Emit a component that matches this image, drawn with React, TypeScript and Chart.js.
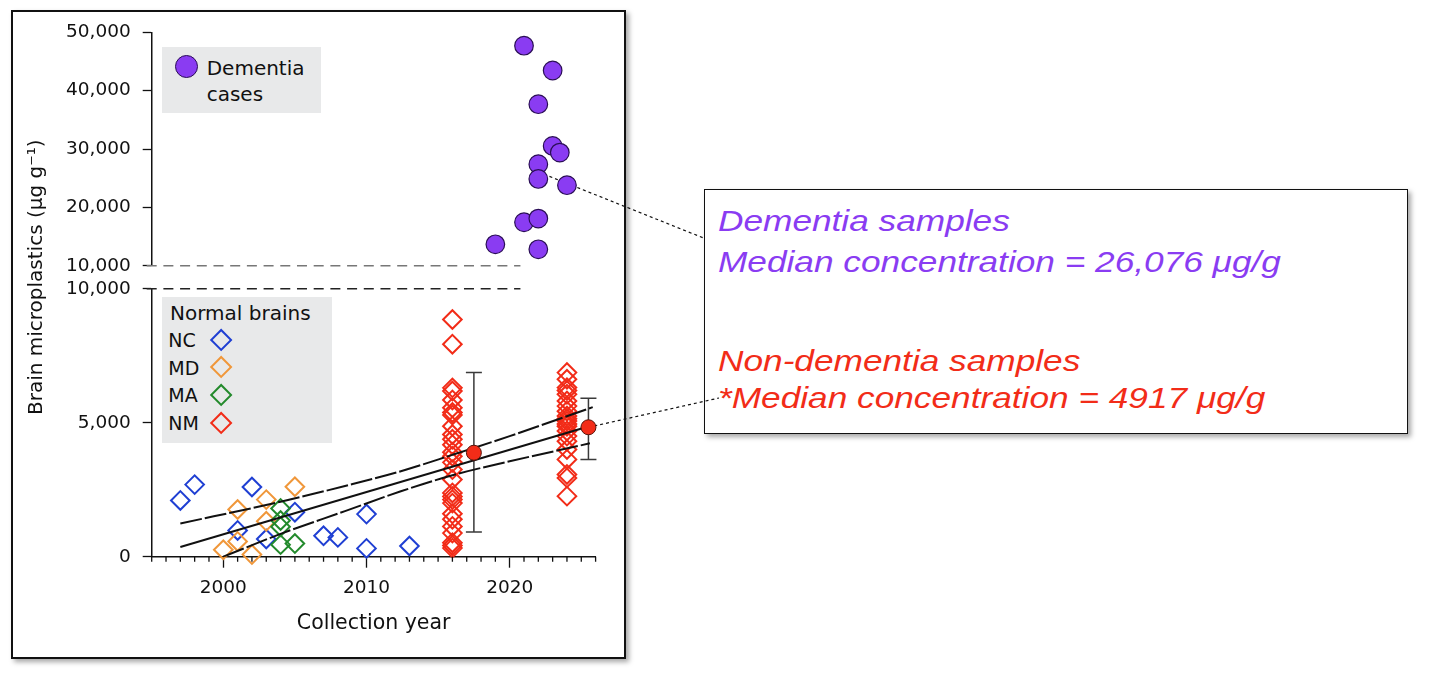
import React, { useEffect, useRef } from 'react';
import { Chart, registerables } from 'chart.js';

Chart.register(...registerables);

const FONT = '"DejaVu Sans", "Noto Sans", sans-serif';
const NOTE_FONT = '"Liberation Sans", Arial, sans-serif';

// Dementia cases (upper panel)
const dementiaYears = [2021, 2023, 2022, 2023, 2023.5, 2022, 2022, 2024, 2021, 2022, 2019, 2022];
const dementiaValues = [47700, 43450, 37680, 30520, 29380, 27400, 24870, 23800, 17450, 18070, 13670, 12810];
const dementiaMedianYear = 2022;
const dementiaMedian = 26076;

// Normal brains (lower panel)
const ncYears = [1997, 1998, 2001, 2002, 2003, 2005, 2007, 2008, 2010, 2010, 2013];
const ncValues = [2100, 2690, 980, 2600, 660, 1660, 780, 720, 1590, 310, 400];
const mdYears = [2000, 2001, 2001, 2002, 2003, 2003, 2005];
const mdValues = [260, 1760, 570, 80, 2130, 1320, 2610];
const maYears = [2004, 2004, 2004, 2004, 2005];
const maValues = [1800, 1350, 1120, 450, 490];
const nmYearA = 2016;
const nmValuesA = [8850, 7930, 6300, 6180, 5850, 5560, 5380, 5290, 4870, 4560, 4380, 4180, 3900, 3750, 3520, 3250, 2880, 2380, 2250, 2130, 2000, 1600, 1400, 1130, 880, 520, 420, 320];
const nmYearB = 2024;
const nmValuesB = [6870, 6620, 6310, 6200, 6060, 5810, 5620, 5430, 5250, 5150, 5060, 4950, 4870, 4690, 4500, 4310, 4000, 3630, 3070, 2940, 2260];

// NM summaries (median with range)
const summaryYears = [2017.5, 2025.5];
const summaryMedians = [3880, 4830];
const summaryLow = [920, 3630];
const summaryHigh = [6870, 5910];

// regression fit and its confidence band
const fitYears = [1997, 2025.5];
const fitValues = [363, 4860];
const upperYears = [1997, 2004, 2008.5, 2012.4, 2016, 2020, 2025.8];
const upperValues = [1240, 2050, 2640, 3190, 3800, 4500, 5580];
const lowerYears = [2000, 2004, 2008.5, 2012.4, 2016, 2020, 2025.6];
const lowerValues = [0, 850, 1700, 2440, 3040, 3560, 4230];

// axis break lines
const breakValue = 10000;
const breakFrom = 1994.65;
const breakTo = 2020.75;

// layout (px)
const AXIS_LEFT = 151.7;
const LEADER_DEMENTIA_TO = { x: 704.3, y: 238.3 };
const LEADER_NORMAL_TO = { x: 719, y: 398 };

const PURPLE = '#8a3cf2';
const RED = '#f22c18';
const BLUE = '#1f3fd3';
const ORANGE = '#f0973a';
const GREEN = '#238a2c';

const pts = (xs: number[], ys: number[]) => xs.map((x, i) => ({ x, y: ys[i] }));
const col = (x: number, ys: number[]) => ys.map((y) => ({ x, y }));
const fmt = (v: number | string) => Number(v).toLocaleString('en-US');

const overlayPlugin = {
  id: 'overlay',
  beforeDatasetsDraw(chart: any) {
    const { ctx, scales } = chart;
    const xs = scales.x;
    const yb = scales.y;
    const yt = scales.yTop;
    ctx.save();
    // range bars
    ctx.strokeStyle = '#3a3a3a';
    ctx.lineWidth = 1.5;
    summaryYears.forEach((yr, i) => {
      const px = xs.getPixelForValue(yr);
      const top = yb.getPixelForValue(summaryHigh[i]);
      const bot = yb.getPixelForValue(summaryLow[i]);
      ctx.beginPath();
      ctx.moveTo(px, top);
      ctx.lineTo(px, bot);
      ctx.moveTo(px - 8, top);
      ctx.lineTo(px + 8, top);
      ctx.moveTo(px - 8, bot);
      ctx.lineTo(px + 8, bot);
      ctx.stroke();
    });
    // leader lines to the note box
    ctx.setLineDash([3, 3]);
    ctx.lineWidth = 1.2;
    ctx.strokeStyle = '#111';
    ctx.beginPath();
    ctx.moveTo(xs.getPixelForValue(dementiaMedianYear), yt.getPixelForValue(dementiaMedian));
    ctx.lineTo(LEADER_DEMENTIA_TO.x, LEADER_DEMENTIA_TO.y);
    ctx.moveTo(xs.getPixelForValue(summaryYears[1]), yb.getPixelForValue(summaryMedians[1]));
    ctx.lineTo(LEADER_NORMAL_TO.x, LEADER_NORMAL_TO.y);
    ctx.stroke();
    ctx.restore();
  },
  afterDraw(chart: any) {
    const { ctx } = chart;
    const xs = chart.scales.x;
    ctx.save();
    ctx.strokeStyle = '#111';
    ctx.lineWidth = 1.3;
    ctx.beginPath();
    xs.ticks.forEach((t: any) => {
      if (t.value % 10 !== 0) {
        const px = xs.getPixelForValue(t.value);
        ctx.moveTo(px, xs.top);
        ctx.lineTo(px, xs.top + 5);
      }
    });
    ctx.stroke();
    ctx.restore();
  },
};

const diamond = (color: string) => ({
  pointStyle: 'rectRot' as const,
  pointRadius: 9.3,
  pointBorderWidth: 2,
  borderColor: color,
  pointBorderColor: color,
  backgroundColor: 'rgba(0,0,0,0)',
  pointBackgroundColor: 'rgba(0,0,0,0)',
  showLine: false,
  clip: false as const,
  yAxisID: 'y',
});

const tickFont = { family: FONT, size: 18.5 };

function Diamond({ cx, cy, color }: { cx: number; cy: number; color: string }) {
  const s = 16.3;
  return (
    <div
      style={{
        position: 'absolute',
        left: cx - s / 2,
        top: cy - s / 2,
        width: s,
        height: s,
        boxSizing: 'border-box',
        border: `2px solid ${color}`,
        transform: 'rotate(45deg)',
      }}
    />
  );
}

const legendRows = [
  { label: 'NC', color: BLUE },
  { label: 'MD', color: ORANGE },
  { label: 'MA', color: GREEN },
  { label: 'NM', color: RED },
];

const noteLines = [
  { text: 'Dementia samples', color: PURPLE, cy: 220.7 },
  { text: 'Median concentration = 26,076 μg/g', color: PURPLE, cy: 261.5 },
  { text: 'Non-dementia samples', color: RED, cy: 360.8 },
  { text: '*Median concentration = 4917 μg/g', color: RED, cy: 397.5 },
];

export default function App() {
  const canvasRef = useRef<HTMLCanvasElement>(null);

  useEffect(() => {
    if (!canvasRef.current) return;
    const chart = new Chart(canvasRef.current, {
      type: 'scatter',
      data: {
        datasets: [
          {
            label: 'NM median',
            data: pts(summaryYears, summaryMedians),
            pointStyle: 'circle',
            pointRadius: 7.5,
            pointBorderWidth: 1,
            pointBackgroundColor: RED,
            pointBorderColor: '#5a1208',
            backgroundColor: RED,
            borderColor: '#5a1208',
            clip: false,
            yAxisID: 'y',
          },
          {
            label: 'fit',
            data: pts(fitYears, fitValues),
            showLine: true,
            pointRadius: 0,
            borderColor: '#111',
            borderWidth: 2,
            yAxisID: 'y',
          },
          {
            label: 'upper',
            data: pts(upperYears, upperValues),
            showLine: true,
            pointRadius: 0,
            borderColor: '#111',
            borderWidth: 2,
            borderDash: [22, 3],
            cubicInterpolationMode: 'monotone',
            yAxisID: 'y',
          },
          {
            label: 'lower',
            data: pts(lowerYears, lowerValues),
            showLine: true,
            pointRadius: 0,
            borderColor: '#111',
            borderWidth: 2,
            borderDash: [22, 3],
            cubicInterpolationMode: 'monotone',
            yAxisID: 'y',
          },
          {
            label: 'Dementia cases',
            data: pts(dementiaYears, dementiaValues),
            pointStyle: 'circle',
            pointRadius: 9.3,
            pointBorderWidth: 1.2,
            pointBackgroundColor: PURPLE,
            pointBorderColor: '#2a0e55',
            backgroundColor: PURPLE,
            borderColor: '#2a0e55',
            clip: false,
            yAxisID: 'yTop',
          },
          { label: 'NM 2016', data: col(nmYearA, nmValuesA), ...diamond(RED) },
          { label: 'NM 2024', data: col(nmYearB, nmValuesB), ...diamond(RED) },
          { label: 'MA', data: pts(maYears, maValues), ...diamond(GREEN) },
          { label: 'MD', data: pts(mdYears, mdValues), ...diamond(ORANGE) },
          { label: 'NC', data: pts(ncYears, ncValues), ...diamond(BLUE) },
          {
            label: 'break top',
            data: pts([breakFrom, breakTo], [breakValue, breakValue]),
            showLine: true,
            pointRadius: 0,
            borderColor: '#777',
            borderWidth: 1.5,
            borderDash: [10, 6.7],
            clip: false,
            yAxisID: 'yTop',
          },
          {
            label: 'break bottom',
            data: pts([breakFrom, breakTo], [breakValue, breakValue]),
            showLine: true,
            pointRadius: 0,
            borderColor: '#222',
            borderWidth: 1.5,
            borderDash: [10, 6.7],
            clip: false,
            yAxisID: 'y',
          },
        ] as any,
      },
      options: {
        animation: false,
        responsive: true,
        maintainAspectRatio: false,
        events: [],
        layout: { padding: { left: 0, top: 32.3, right: 860.4, bottom: 24.3 } },
        plugins: { legend: { display: false }, tooltip: { enabled: false } },
        scales: {
          x: {
            type: 'linear',
            position: 'bottom',
            min: 1995,
            max: 2026,
            afterFit: (s: any) => {
              s.height = 100;
            },
            border: { color: '#111', width: 1.5 },
            grid: {
              drawOnChartArea: false,
              tickLength: 11,
              tickWidth: 1.3,
              tickColor: (c: any) => (c.tick && c.tick.value % 10 === 0 ? '#111' : 'rgba(0,0,0,0)'),
            },
            ticks: {
              stepSize: 1,
              autoSkip: false,
              maxRotation: 0,
              minRotation: 0,
              padding: 9.5,
              color: '#111',
              font: tickFont,
              callback: (v: any) => (Number(v) % 10 === 0 ? String(v) : ''),
            },
            title: {
              display: true,
              text: 'Collection year',
              color: '#111',
              font: { family: FONT, size: 20.5 },
              padding: { top: 0, bottom: 21.1 },
            },
          },
          y: {
            type: 'linear',
            position: 'left',
            stack: 'v',
            stackWeight: 268,
            weight: 1,
            min: 0,
            max: 10000,
            afterFit: (s: any) => {
              s.width = AXIS_LEFT;
            },
            border: { color: '#111', width: 1.5 },
            grid: { drawOnChartArea: false, tickLength: 9, tickWidth: 1.3, tickColor: '#111' },
            ticks: { stepSize: 5000, padding: 12, color: '#111', font: tickFont, callback: fmt },
          },
          yGap: {
            type: 'linear',
            position: 'left',
            stack: 'v',
            stackWeight: 23,
            weight: 2,
            min: 0,
            max: 1,
            afterFit: (s: any) => {
              s.width = AXIS_LEFT;
            },
            border: { display: false },
            grid: { display: false },
            ticks: { display: false },
            title: {
              display: true,
              text: 'Brain microplastics (μg g⁻¹)',
              color: '#111',
              font: { family: FONT, size: 20 },
              padding: { top: 25, bottom: 0 },
            },
          },
          yTop: {
            type: 'linear',
            position: 'left',
            stack: 'v',
            stackWeight: 233.4,
            weight: 3,
            min: 10000,
            max: 50000,
            afterFit: (s: any) => {
              s.width = AXIS_LEFT;
            },
            border: { color: '#111', width: 1.5 },
            grid: { drawOnChartArea: false, tickLength: 9, tickWidth: 1.3, tickColor: '#111' },
            ticks: { stepSize: 10000, padding: 12, color: '#111', font: tickFont, callback: fmt },
          },
        },
      } as any,
      plugins: [overlayPlugin],
    });
    return () => chart.destroy();
  }, []);

  return (
    <div
      style={{
        position: 'absolute',
        left: 0,
        top: 0,
        width: 1456,
        height: 681,
        overflow: 'hidden',
        background: '#fff',
        fontFamily: FONT,
        color: '#111',
      }}
    >
      {/* figure panel */}
      <div
        style={{
          position: 'absolute',
          left: 11.3,
          top: 10,
          width: 614.7,
          height: 649,
          boxSizing: 'border-box',
          border: '2px solid #111',
          boxShadow: '3px 3px 5px rgba(0,0,0,0.35)',
        }}
      />

      {/* dementia legend */}
      <div style={{ position: 'absolute', left: 162.3, top: 46.7, width: 158.4, height: 66, background: '#e8e9ea' }} />
      <div
        style={{
          position: 'absolute',
          left: 175.2,
          top: 55.2,
          width: 23,
          height: 23,
          boxSizing: 'border-box',
          borderRadius: '50%',
          background: PURPLE,
          border: '1.5px solid #2a0e55',
        }}
      />
      <div style={{ position: 'absolute', left: 206.7, top: 54.7, fontSize: 20, lineHeight: '26.7px', whiteSpace: 'nowrap' }}>
        Dementia
        <br />
        cases
      </div>

      {/* normal brains legend */}
      <div style={{ position: 'absolute', left: 162.3, top: 296.7, width: 170, height: 146.7, background: '#e8e9ea' }} />
      <div style={{ position: 'absolute', left: 170, top: 301.1, fontSize: 20, lineHeight: '24px', whiteSpace: 'nowrap' }}>
        Normal brains
      </div>
      {legendRows.map((r, i) => (
        <React.Fragment key={r.label}>
          <div
            style={{
              position: 'absolute',
              left: 168.3,
              top: 328.1 + i * 27.6,
              fontSize: 19,
              lineHeight: '24px',
              whiteSpace: 'nowrap',
            }}
          >
            {r.label}
          </div>
          <Diamond cx={220.8} cy={340 + i * 27.6} color={r.color} />
        </React.Fragment>
      ))}

      {/* note box */}
      <div
        style={{
          position: 'absolute',
          left: 703.5,
          top: 189.3,
          width: 704.5,
          height: 244.7,
          boxSizing: 'border-box',
          border: '1.5px solid #111',
          background: '#fff',
          boxShadow: '3px 3px 5px rgba(0,0,0,0.35)',
        }}
      />
      {noteLines.map((l) => (
        <div
          key={l.text}
          style={{
            position: 'absolute',
            left: 718.3,
            top: l.cy - 17,
            fontFamily: NOTE_FONT,
            fontStyle: 'italic',
            fontSize: 29,
            lineHeight: '34px',
            color: l.color,
            whiteSpace: 'nowrap',
            transform: 'scaleX(1.215)',
            transformOrigin: 'left center',
          }}
        >
          {l.text}
        </div>
      ))}

      <div style={{ position: 'absolute', left: 0, top: 0, width: 1456, height: 681, pointerEvents: 'none' }}>
        <canvas ref={canvasRef} />
      </div>
    </div>
  );
}
